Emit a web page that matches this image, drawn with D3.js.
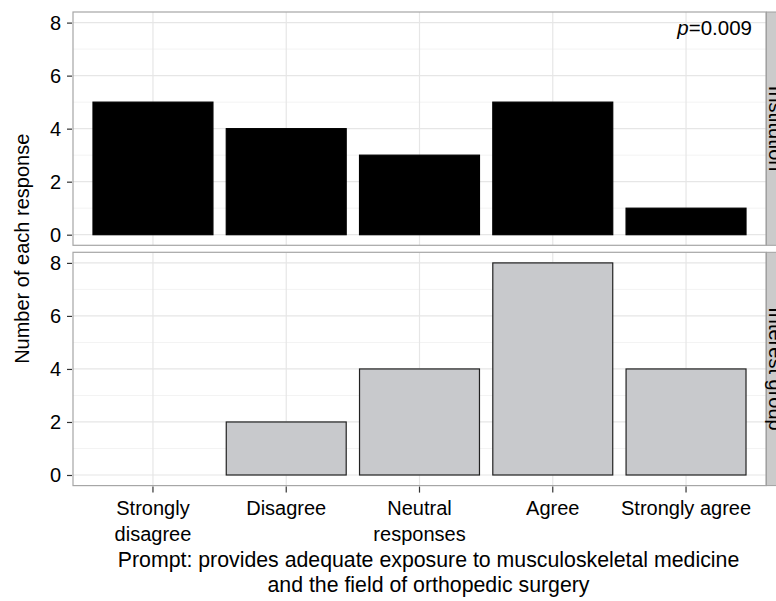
<!DOCTYPE html>
<html>
<head>
<meta charset="utf-8">
<script src="https://cdn.jsdelivr.net/npm/d3@7"></script>
<style>
  body { margin: 0; background: #fff; }
  text { font-family: "Liberation Sans", Arial, Helvetica, sans-serif; fill: #000; }
</style>
</head>
<body>
<svg id="chart" width="776" height="601"></svg>
<script>
// data
var categories = ["Strongly disagree", "Disagree", "Neutral responses", "Agree", "Strongly agree"];
var categoryLabels = [["Strongly", "disagree"], ["Disagree"], ["Neutral", "responses"], ["Agree"], ["Strongly agree"]];
var panels = ["Institution", "Interest group"];
var institution = [5, 4, 3, 5, 1];
var interestGroup = [null, 2, 4, 8, 4];
var yTicks = [0, 2, 4, 6, 8];
var yMinor = [1, 3, 5, 7];
var pLabel = "0.009";

var svg = d3.select("#chart"),
    width = +svg.attr("width"),
    height = +svg.attr("height");

var left = 73, right = 766, fontSize = 20;

var x = d3.scaleBand()
    .domain(categories)
    .range([left, right])
    .paddingInner(0.1)
    .paddingOuter(0.15);

var layout = [
    { name: panels[0], values: institution, top: 12, bottom: 245.3, fill: "#000", stroke: "#000" },
    { name: panels[1], values: interestGroup, top: 252.3, bottom: 485.6, fill: "#c8c9cc", stroke: "#222" }
];

layout.forEach(function(p, i) {
    var y = d3.scaleLinear().domain([-0.4, 8.4]).range([p.bottom, p.top]);
    var g = svg.append("g");

    g.append("rect")
        .attr("x", left).attr("y", p.top)
        .attr("width", right - left).attr("height", p.bottom - p.top)
        .attr("fill", "#fff");

    // minor grid
    g.selectAll(".minor").data(yMinor).enter().append("line")
        .attr("x1", left).attr("x2", right)
        .attr("y1", function(d) { return y(d); }).attr("y2", function(d) { return y(d); })
        .attr("stroke", "#f3f3f3").attr("stroke-width", 1);
    // major grid
    g.selectAll(".major").data(yTicks).enter().append("line")
        .attr("x1", left).attr("x2", right)
        .attr("y1", function(d) { return y(d); }).attr("y2", function(d) { return y(d); })
        .attr("stroke", "#e6e6e6").attr("stroke-width", 1.2);
    g.selectAll(".vgrid").data(categories).enter().append("line")
        .attr("x1", function(d) { return x(d) + x.bandwidth() / 2; })
        .attr("x2", function(d) { return x(d) + x.bandwidth() / 2; })
        .attr("y1", p.top).attr("y2", p.bottom)
        .attr("stroke", "#e6e6e6").attr("stroke-width", 1.2);

    // bars
    g.selectAll(".bar")
        .data(p.values.map(function(v, j) { return { cat: categories[j], v: v }; })
            .filter(function(d) { return d.v != null; }))
        .enter().append("rect")
        .attr("x", function(d) { return x(d.cat); })
        .attr("width", x.bandwidth())
        .attr("y", function(d) { return y(d.v); })
        .attr("height", function(d) { return y(0) - y(d.v); })
        .attr("fill", p.fill)
        .attr("stroke", p.stroke)
        .attr("stroke-width", 1.2);

    // border
    g.append("rect")
        .attr("x", left).attr("y", p.top)
        .attr("width", right - left).attr("height", p.bottom - p.top)
        .attr("fill", "none").attr("stroke", "#a6a6a6").attr("stroke-width", 1.2);

    // y axis
    var yAxis = d3.axisLeft(y).tickValues(yTicks).tickSize(5).tickPadding(6);
    var ax = svg.append("g").attr("transform", "translate(" + (left - 1) + ",0)").call(yAxis);
    ax.select(".domain").remove();
    ax.selectAll(".tick line").attr("stroke", "#333").attr("stroke-width", 1.2);
    ax.selectAll(".tick text").style("font-size", fontSize + "px")
        .style("font-family", "Liberation Sans, Arial, sans-serif").attr("fill", "#000");

    // strip on the right (cut by the picture edge, as in the source)
    svg.append("rect")
        .attr("x", right + 0.5).attr("y", p.top)
        .attr("width", 26).attr("height", p.bottom - p.top)
        .attr("fill", "#cbcbcb").attr("stroke", "#a0a0a0").attr("stroke-width", 1);
    svg.append("text")
        .attr("transform", "translate(" + (right + 3) + "," + ((p.top + p.bottom) / 2) + ") rotate(90)")
        .attr("text-anchor", "middle")
        .style("font-size", fontSize + "px")
        .text(p.name);

    if (i === 0) {
        var pt = svg.append("text")
            .attr("x", right - 14).attr("y", 35)
            .attr("text-anchor", "end")
            .style("font-size", "20.5px");
        pt.append("tspan").style("font-style", "italic").text("p");
        pt.append("tspan").text("=" + pLabel);
    }

    if (i === 1) {
        var xAxis = d3.axisBottom(x).tickSize(6).tickFormat("");
        var bx = svg.append("g").attr("transform", "translate(0," + (p.bottom + 1) + ")").call(xAxis);
        bx.select(".domain").remove();
        bx.selectAll(".tick line").attr("stroke", "#333").attr("stroke-width", 1.2);

        svg.selectAll(".xlab").data(categories).enter().append("text")
            .attr("x", function(d) { return x(d) + x.bandwidth() / 2; })
            .attr("y", 515)
            .attr("text-anchor", "middle")
            .style("font-size", fontSize + "px")
            .each(function(d, j) {
                var t = d3.select(this);
                categoryLabels[j].forEach(function(line, k) {
                    t.append("tspan")
                        .attr("x", x(d) + x.bandwidth() / 2)
                        .attr("dy", k === 0 ? 0 : 25.5)
                        .text(line);
                });
            });
    }
});

// axis titles
svg.append("text")
    .attr("transform", "translate(29," + ((12 + 485.6) / 2) + ") rotate(-90)")
    .attr("text-anchor", "middle")
    .style("font-size", fontSize + "px")
    .text("Number of each response");

var xt = svg.append("text")
    .attr("text-anchor", "middle")
    .style("font-size", "21.3px");
xt.append("tspan").attr("x", (left + right) / 2 + 9).attr("y", 567)
    .text("Prompt: provides adequate exposure to musculoskeletal medicine");
xt.append("tspan").attr("x", (left + right) / 2 + 9).attr("y", 592)
    .text("and the field of orthopedic surgery");
</script>
</body>
</html>
